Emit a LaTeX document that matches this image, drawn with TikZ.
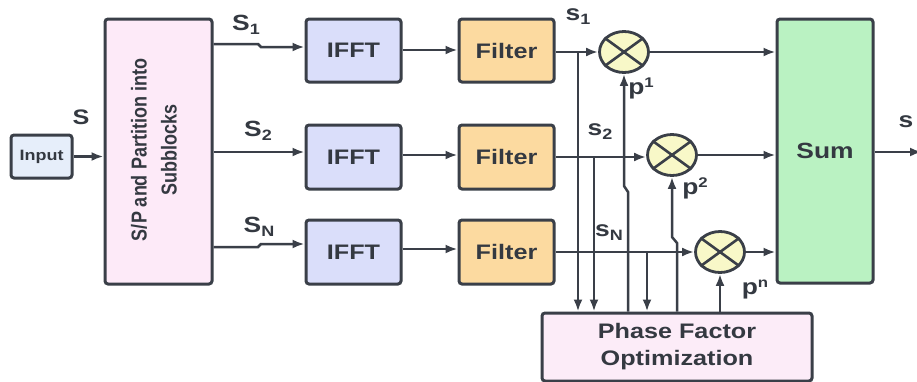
\documentclass[tikz,border=0pt]{standalone}
\usepackage{fontspec}
\setmainfont[FakeStretch=1.2]{Liberation Sans}
\newfontfamily\plainsans{Liberation Sans}
\usetikzlibrary{arrows.meta,shapes.geometric}
\definecolor{ln}{RGB}{58,63,72}
\definecolor{txt}{RGB}{52,57,65}
\definecolor{inputc}{RGB}{230,238,250}
\definecolor{spc}{RGB}{253,234,248}
\definecolor{ifftc}{RGB}{218,222,250}
\definecolor{filtc}{RGB}{252,218,160}
\definecolor{mulc}{RGB}{248,248,200}
\definecolor{sumc}{RGB}{186,242,194}
\definecolor{pfoc}{RGB}{252,236,248}
\newcommand\fsz[1]{\fontsize{#1}{#1}\selectfont\bfseries}
\newcommand\lsub[2]{#1\raisebox{-4pt}{\fontsize{15}{15}\selectfont #2}}
\newcommand\lsup[2]{#1\raisebox{7pt}{\fontsize{14}{14}\selectfont #2}}
\begin{document}
\begin{tikzpicture}[x=1pt,y=-1pt,
  blk/.style={draw=ln, line width=3pt, rounded corners=3pt, text=txt, inner sep=0pt, align=center},
  mul/.style={draw=ln, line width=2.8pt, ellipse, fill=mulc, minimum width=49pt, minimum height=41pt, inner sep=0pt},
  wire/.style={draw=ln, line width=2.5pt},
  arr/.style={wire, -{Latex[length=12pt,width=9pt]}},
  lab/.style={text=txt, font=\fsz{22}, inner sep=0pt}]
\useasboundingbox (0,0) rectangle (917,381);
\fill[white] (0,0) rectangle (917,381);

% blocks
\node[blk, fill=inputc, minimum width=61pt, minimum height=43pt, font=\fsz{15}] (in) at (41.5,156.5) {Input};
\node[blk, fill=spc, minimum width=107pt, minimum height=265pt] (sp) at (158.5,151.5) {};
\node[text=txt, inner sep=0pt] (sptxt) at (155.5,150) {\scalebox{1.2}[1]{\rotatebox{90}{\plainsans\fontsize{18}{25}\selectfont\bfseries\begin{tabular}{@{}c@{}}S/P and Partition into\\Subblocks\end{tabular}}}};

\node[blk, fill=ifftc, minimum width=95pt, minimum height=63pt, font=\fsz{21}] (i1) at (353.5,50.5) {IFFT};
\node[blk, fill=ifftc, minimum width=95pt, minimum height=64pt, font=\fsz{21}] (i2) at (353.5,157) {IFFT};
\node[blk, fill=ifftc, minimum width=95pt, minimum height=64pt, font=\fsz{21}] (i3) at (353.5,252) {IFFT};
\node[blk, fill=filtc, minimum width=95pt, minimum height=63pt, font=\fsz{21}] (f1) at (506.5,50.5) {Filter};
\node[blk, fill=filtc, minimum width=95pt, minimum height=64pt, font=\fsz{21}] (f2) at (506.5,157) {Filter};
\node[blk, fill=filtc, minimum width=95pt, minimum height=64pt, font=\fsz{21}] (f3) at (506.5,252) {Filter};
\node[blk, fill=sumc, minimum width=96pt, minimum height=264pt, font=\fsz{22}] (sum) at (825,151) {Sum};
\node[blk, fill=pfoc, minimum width=270pt, minimum height=68pt, font={\fontsize{21}{27}\selectfont\bfseries}] (pfo) at (677,347) {Phase Factor\\Optimization};

% multipliers
\node[mul] (m1) at (624,52) {};
\node[mul] (m2) at (672,155) {};
\node[mul] (m3) at (720,252) {};
\foreach \m in {m1,m2,m3}{
  \draw[wire, line width=2.6pt] (\m.36) -- (\m.216) (\m.144) -- (\m.324);
}

% connectors
\draw[arr] (in.east) -- (in.east -| sp.west);
\draw[arr] (sp.east |- 0,44) -- (258,44) -- (261,47) -- (i1.west |- 0,47);
\draw[arr] (sp.east |- 0,152) -- (i2.west |- 0,152);
\draw[arr] (sp.east |- 0,247) -- (258,247) -- (261,244) -- (i3.west |- 0,244);

\draw[arr] (i1.east |- 0,50) -- (f1.west |- 0,50);
\draw[arr] (i2.east |- 0,155) -- (f2.west |- 0,155);
\draw[arr] (i3.east |- 0,249) -- (f3.west |- 0,249);

\draw[arr] (f1.east |- m1.west) -- (m1.west);
\draw[arr] (f2.east |- 0,157) -- (m2.west |- 0,157);
\draw[arr] (f3.east |- m3.west) -- (m3.west);

\draw[arr] (m1.east) -- (m1.east -| sum.west);
\draw[arr] (m2.east) -- (m2.east -| sum.west);
\draw[arr] (m3.east) -- (m3.east -| sum.west);

\coordinate (b1) at (578,52);
\coordinate (b2) at (594,157);
\coordinate (b3) at (647,252);
\draw[arr] (b1) -- (b1 |- pfo.north);
\draw[arr] (b2) -- (b2 |- pfo.north);
\draw[arr] (b3) -- (b3 |- pfo.north);

\draw[arr] (pfo.north -| 628,0) -- (628,192) -- (624,186) -- (m1.south);
\draw[arr] (pfo.north -| 677,0) -- (677,243) -- (672,237) -- (m2.south);
\draw[arr] (pfo.north -| m3.south) -- (m3.south);

\coordinate (out) at (922,152);
\draw[arr] (sum.east |- out) -- (out);

% labels
\node[lab, font=\fsz{21}] (lS) at (81,117) {S};
\node[lab] (lS1) at (246,25) {\lsub{S}{1}};
\node[lab] (lS2) at (258,131) {\lsub{S}{2}};
\node[lab] (lSN) at (259,227) {\lsub{S}{N}};
\node[lab] (ls1) at (578,17) {\lsub{s}{1}};
\node[lab] (ls2) at (600,132) {\lsub{s}{2}};
\node[lab] (lsN) at (609,233) {\lsub{s}{N}};
\node[lab] (lp1) at (641,88) {\lsup{p}{1}};
\node[lab] (lp2) at (695,188) {\lsup{p}{2}};
\node[lab] (lpn) at (755,290) {\lsup{p}{n}};
\node[lab] (lout) at (906,122) {s};
\end{tikzpicture}
\end{document}
